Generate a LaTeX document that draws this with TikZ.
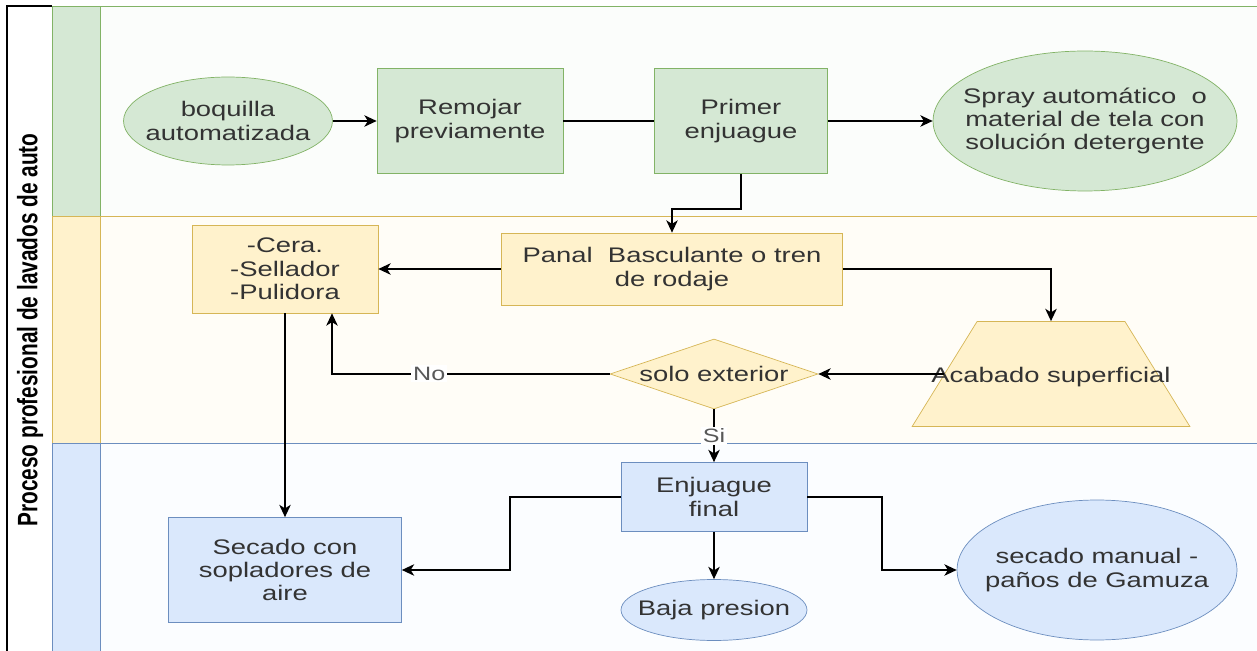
\documentclass[tikz,border=0pt]{standalone}
\usepackage{fontspec}
\setmainfont{Liberation Sans}[FakeStretch=1.3]
\newfontfamily\titlefont{Liberation Sans}[FakeStretch=0.74]
\usetikzlibrary{arrows.meta,shapes.geometric}
\definecolor{grnfill}{HTML}{D5E8D4}
\definecolor{grnline}{HTML}{82B366}
\definecolor{yelfill}{HTML}{FFF2CC}
\definecolor{yelline}{HTML}{D6B656}
\definecolor{blufill}{HTML}{DAE8FC}
\definecolor{bluline}{HTML}{6C8EBF}
\begin{document}
\begin{tikzpicture}[x=0.02cm,y=-0.02cm,
	every node/.style={font=\fontsize{12}{13.3}\selectfont,text=black!80,align=center},
	box/.style={rectangle,draw=#1line,fill=#1fill,inner sep=2pt},
	oval/.style={ellipse,draw=#1line,fill=#1fill,inner sep=0pt,inner xsep=-0.6cm},
	flecha/.style={-{Stealth[length=7pt,width=6.5pt,inset=2pt]},line width=1pt},
	linea/.style={line width=1pt},
	etiqueta/.style={fill=white,inner sep=1pt,font=\fontsize{11}{12}\selectfont,text=black!65}]
				\useasboundingbox (0,0) rectangle (1257,651);
				\draw[grnline,fill=grnfill!10] (100,6) rectangle (1262,216);
				\draw[grnline,fill=grnfill] (52,6) rectangle (100,216);
				\draw[yelline,fill=yelfill!15] (100,216) rectangle (1262,443);
				\draw[yelline,fill=yelfill] (52,216) rectangle (100,443);
				\draw[bluline,fill=blufill!10] (100,443) rectangle (1262,660);
				\draw[bluline,fill=blufill] (52,443) rectangle (100,660);
				\draw[line width=1.2pt] (7,660) -- (7,6) -- (52,6);
				\node[rotate=90,text=black,font=\titlefont\bfseries\fontsize{16}{18}\selectfont] (titulo) at (30,330) {Proceso profesional de lavados de auto};

				\node[oval=grn,minimum width=4.18cm,minimum height=1.76cm] (boquilla) at (228,121) {boquilla\\automatizada};
				\node[box=grn,minimum width=3.72cm,minimum height=2.1cm] (remojar) at (470,121) {Remojar\\previamente};
				\node[box=grn,minimum width=3.46cm,minimum height=2.1cm] (primer) at (741,121) {Primer\\enjuague};
				\node[oval=grn,minimum width=6.08cm,minimum height=2.8cm] (spray) at (1085,121) {Spray automático~ o\\material de tela con\\solución detergente};

				\node[box=yel,minimum width=6.82cm,minimum height=1.44cm] (panal) at (672,269) {Panal~ Basculante o tren\\de rodaje};
				\node[box=yel,minimum width=3.72cm,minimum height=1.76cm] (cera) at (285,269) {-Cera.\\-Sellador\\-Pulidora};
				\node[diamond,draw=yelline,fill=yelfill,inner sep=0pt,minimum width=4.16cm,minimum height=1.4cm,label=center:solo exterior] (exterior) at (714,374) {};
				\node[trapezium,draw=yelline,fill=yelfill,trapezium left angle=66.3,trapezium right angle=66.3,trapezium stretches=true,minimum width=5.56cm,minimum height=2.1cm,label={[yshift=-2pt]center:Acabado superficial}] (acabado) at (1051,374) {};

				\node[box=blu,minimum width=3.72cm,minimum height=1.38cm] (enjuague) at (714,497) {Enjuague\\final};
				\node[oval=blu,minimum width=3.72cm,minimum height=1.22cm] (baja) at (714,610) {Baja presion};
				\node[box=blu,minimum width=4.66cm,minimum height=2.1cm] (secado) at (285,570) {Secado con\\sopladores de\\aire};
				\node[oval=blu,minimum width=5.6cm,minimum height=2.8cm] (gamuza) at (1097,570) {secado manual -\\paños de Gamuza};

				\draw[flecha] (boquilla) -- (remojar);
				\draw[linea] (remojar) -- (primer);
				\draw[flecha] (primer) -- (spray);
				\draw[flecha] (primer.south) -- ++(0,35) -| (panal.north);
				\draw[flecha] (panal) -- (cera);
				\draw[flecha] (panal.east) -| (acabado.north);
				\draw[flecha] (acabado.left side) -- (exterior.east);
				\coordinate (giro) at (332,374);
				\draw[flecha] (exterior.west) -- node[etiqueta,pos=0.65] {No} (giro) -- (giro |- cera.south);
				\draw[flecha] (exterior.south) -- node[etiqueta] {Si} (enjuague.north);
				\draw[flecha] (cera.south) -- (secado.north);
				\draw[flecha] (enjuague.west) -- ++(-111,0) |- (secado.east);
				\draw[flecha] (enjuague.east) -- ++(75,0) |- (gamuza.west);
				\draw[flecha] (enjuague) -- (baja);
			\end{tikzpicture}
\end{document}
